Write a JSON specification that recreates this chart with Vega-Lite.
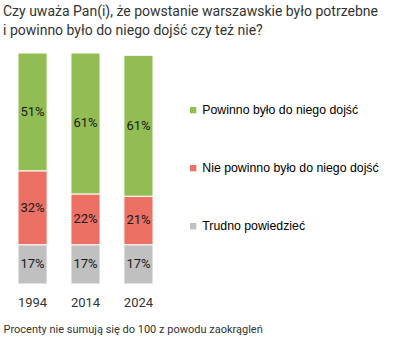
{
  "$schema": "https://vega.github.io/schema/vega-lite/v6.json",
  "width": 165,
  "height": 231,
  "padding": {"left": 3, "top": 4, "right": 5, "bottom": 5},
  "background": "white",
  "title": {
    "text": ["Czy uważa Pan(i), że powstanie warszawskie było potrzebne", "i powinno było do niego dojść czy też nie?"],
    "anchor": "start",
    "frame": "group",
    "font": "Roboto",
    "fontSize": 14,
    "fontWeight": "normal",
    "color": "#333333",
    "lineHeight": 19,
    "offset": 15
  },
  "config": {"view": {"stroke": null}},
  "data": {
    "values": [
      {"year": "1994", "answer": "Trudno powiedzieć", "order": 1, "value": 17, "label": "17%"},
      {"year": "1994", "answer": "Nie powinno było do niego dojść", "order": 2, "value": 32, "label": "32%"},
      {"year": "1994", "answer": "Powinno było do niego dojść", "order": 3, "value": 51, "label": "51%"},
      {"year": "2014", "answer": "Trudno powiedzieć", "order": 1, "value": 17, "label": "17%"},
      {"year": "2014", "answer": "Nie powinno było do niego dojść", "order": 2, "value": 22, "label": "22%"},
      {"year": "2014", "answer": "Powinno było do niego dojść", "order": 3, "value": 61, "label": "61%"},
      {"year": "2024", "answer": "Trudno powiedzieć", "order": 1, "value": 17, "label": "17%"},
      {"year": "2024", "answer": "Nie powinno było do niego dojść", "order": 2, "value": 21, "label": "21%"},
      {"year": "2024", "answer": "Powinno było do niego dojść", "order": 3, "value": 61, "label": "61%"}
    ]
  },
  "encoding": {
    "x": {
      "field": "year",
      "type": "nominal",
      "scale": {"paddingInner": 0.45, "paddingOuter": 0.283},
      "axis": {
        "labelAngle": 0,
        "domain": false,
        "ticks": false,
        "labelPadding": 12,
        "labelFont": "Roboto",
        "labelFontSize": 13,
        "labelColor": "#333333",
        "title": "Procenty nie sumują się do 100 z powodu zaokrągleń",
        "titleFont": "Roboto",
        "titleFontSize": 11,
        "titleFontWeight": "normal",
        "titleColor": "#333333",
        "titleAnchor": "start",
        "titleAlign": "left",
        "titlePadding": 14
      }
    },
    "y": {
      "field": "value",
      "type": "quantitative",
      "stack": "zero",
      "scale": {"domain": [0, 100]},
      "axis": null
    },
    "order": {"field": "order", "type": "quantitative"}
  },
  "layer": [
    {
      "mark": {"type": "bar", "stroke": "white", "strokeWidth": 1},
      "encoding": {
        "color": {
          "field": "answer",
          "type": "nominal",
          "scale": {
            "domain": ["Powinno było do niego dojść", "Nie powinno było do niego dojść", "Trudno powiedzieć"],
            "range": ["#92bd52", "#ec7063", "#c0c0c0"]
          },
          "legend": {
            "orient": "none",
            "legendX": 184,
            "legendY": 51,
            "title": null,
            "symbolType": "square",
            "symbolSize": 40,
            "symbolStrokeWidth": 0,
            "labelFont": "Liberation Sans",
            "labelFontSize": 12.3,
            "labelFontWeight": "normal",
            "labelColor": "#000000",
            "labelOffset": 3,
            "labelLimit": 300,
            "rowPadding": 45
          }
        }
      }
    },
    {
      "mark": {"type": "text", "font": "Roboto", "fontSize": 13, "color": "#1a1a1a"},
      "encoding": {
        "y": {"field": "value", "type": "quantitative", "stack": "zero", "bandPosition": 0.5},
        "text": {"field": "label", "type": "nominal"}
      }
    }
  ]
}
